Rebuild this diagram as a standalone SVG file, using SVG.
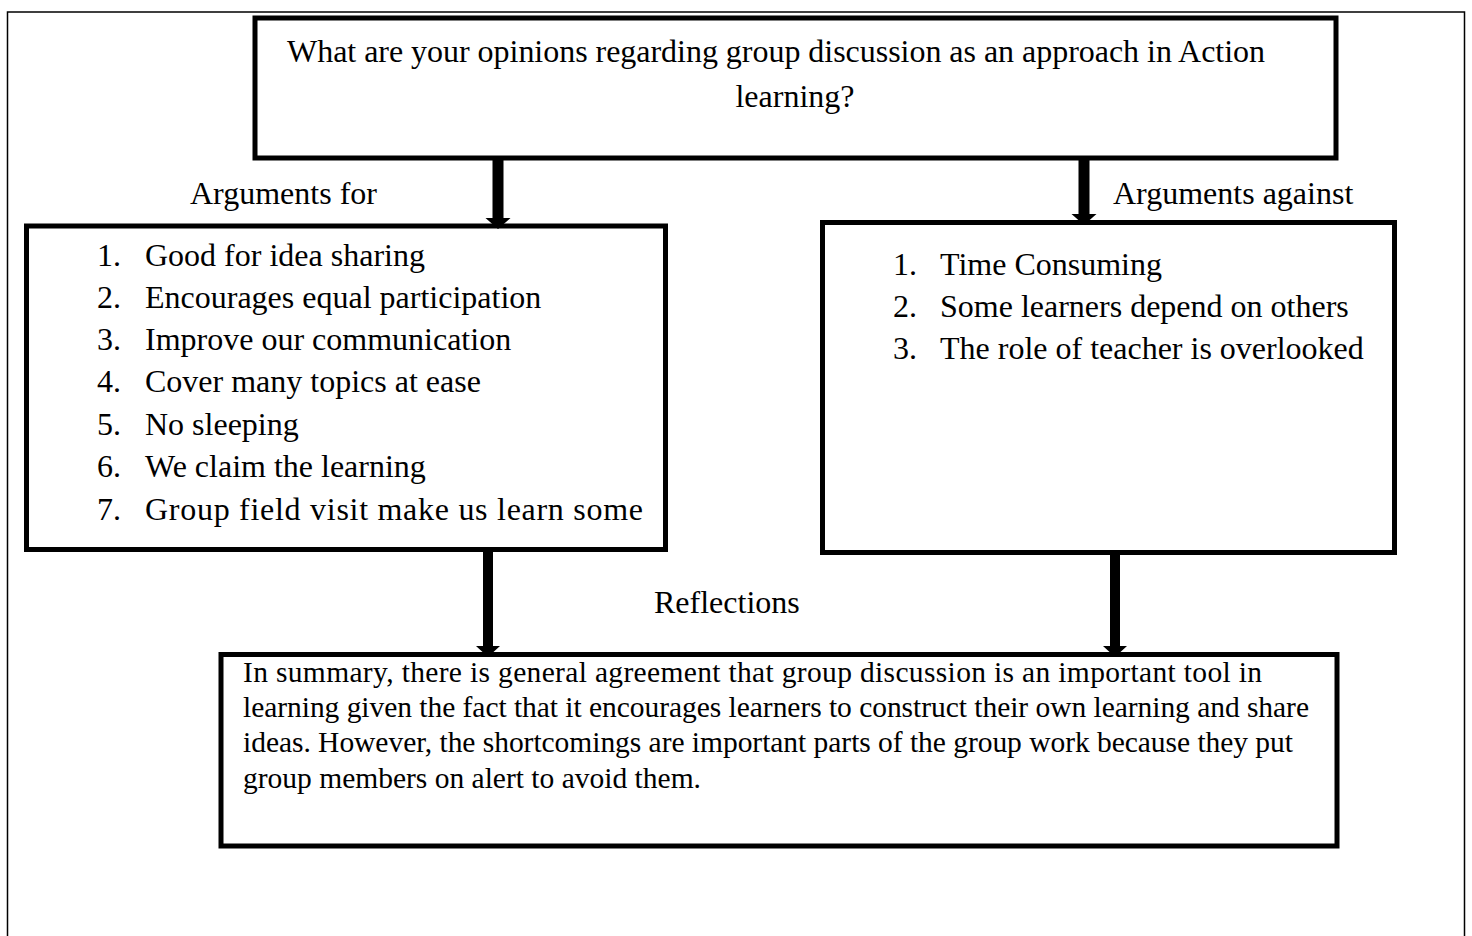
<svg xmlns="http://www.w3.org/2000/svg" width="1472" height="936" viewBox="0 0 1472 936">
<style>
.box{fill:#fff;stroke:#000;stroke-width:5}
.frame{fill:none;stroke:#000;stroke-width:1.5}
text{font-family:"Liberation Serif","Times New Roman",serif;fill:#000}
.t{font-size:32px}
.p{font-size:29.5px}
.arr{fill:#000}
</style>
<rect width="1472" height="936" fill="#fff"/>
<path class="frame" d="M7.5,936 V12 H1464.5 V936"/>
<g id="question">
<rect class="box" x="255" y="18" width="1081" height="140"/>
<text class="t" x="287" y="62" textLength="978" lengthAdjust="spacing">What are your opinions regarding group discussion as an approach in Action</text>
<text class="t" x="795" y="107" text-anchor="middle">learning?</text>
</g>
<g id="label-for"><text class="t" x="190" y="204">Arguments for</text></g>
<g id="label-against"><text class="t" x="1113" y="204">Arguments against</text></g>
<g id="for">
<rect class="box" x="26.5" y="226" width="639" height="323.5"/>
<g class="t">
<text x="97" y="266">1.</text><text x="145" y="266">Good for idea sharing</text>
<text x="97" y="308">2.</text><text x="145" y="308">Encourages equal participation</text>
<text x="97" y="350">3.</text><text x="145" y="350">Improve our communication</text>
<text x="97" y="392">4.</text><text x="145" y="392">Cover many topics at ease</text>
<text x="97" y="435">5.</text><text x="145" y="435">No sleeping</text>
<text x="97" y="477">6.</text><text x="145" y="477">We claim the learning</text>
<text x="97" y="520">7.</text><text x="145" y="520" textLength="498" lengthAdjust="spacing">Group field visit make us learn some</text>
</g>
</g>
<g id="against">
<rect class="box" x="822.5" y="222.5" width="572" height="330"/>
<g class="t">
<text x="893" y="275">1.</text><text x="940" y="275">Time Consuming</text>
<text x="893" y="317">2.</text><text x="940" y="317">Some learners depend on others</text>
<text x="893" y="359">3.</text><text x="940" y="359">The role of teacher is overlooked</text>
</g>
</g>
<g id="label-reflections"><text class="t" x="654" y="613">Reflections</text></g>
<g id="summary">
<rect class="box" x="221" y="654.5" width="1116" height="191.5"/>
<g class="p">
<text x="243" y="682" textLength="1019" lengthAdjust="spacing">In summary, there is general agreement that group discussion is an important tool in</text>
<text x="243" y="717" textLength="1066" lengthAdjust="spacing">learning given the fact that it encourages learners to construct their own learning and share</text>
<text x="243" y="752" textLength="1050" lengthAdjust="spacing">ideas. However, the shortcomings are important parts of the group work because they put</text>
<text x="243" y="788">group members on alert to avoid them.</text>
</g>
</g>
<g id="connectors">
<polygon class="arr" points="492.5,160 503.5,160 503.5,218 510.5,218 498,229 485.5,218 492.5,218"/>
<polygon class="arr" points="1078.5,160 1089.5,160 1089.5,214 1096.5,214 1084,225 1071.5,214 1078.5,214"/>
<polygon class="arr" points="483,552 493,552 493,646 500,646 488,657 476,646 483,646"/>
<polygon class="arr" points="1110,555 1120,555 1120,646 1127,646 1115,657 1103,646 1110,646"/>
</g>
</svg>
